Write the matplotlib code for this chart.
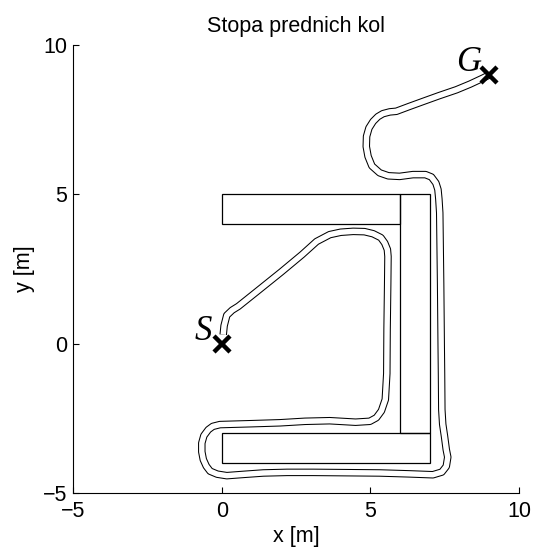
import matplotlib
matplotlib.use('Agg')
from matplotlib import pyplot as plt
from matplotlib.patches import Rectangle

plt.rcParams['font.family'] = ['Liberation Sans', 'DejaVu Sans']

# obstacles: (x, y, width, height)
obstacles = [(0, 4, 6, 1), (6, -3, 1, 8), (0, -4, 7, 1)]

# wheel track
path_x = [0.05, 0.08, 0.17, 0.35, 0.56, 1.2, 2.0, 2.7, 3.19, 3.63, 4.0, 4.42,
          4.8, 5.09, 5.35, 5.48, 5.57, 5.59, 5.58, 5.56, 5.55, 5.5, 5.37, 5.2,
          4.98, 4.5, 3.63, 2.8, 1.96, 1.0, -0.06, -0.3, -0.45, -0.6, -0.67,
          -0.67, -0.62, -0.52, -0.39, -0.15, 0.17, 0.7, 1.40, 2.2, 3.07, 4.2,
          5.31, 6.3, 7.10, 7.4, 7.55, 7.60, 7.55, 7.49, 7.43, 7.40, 7.39, 7.38,
          7.36, 7.33, 7.30, 7.27, 7.2, 7.05, 6.85, 6.43, 5.98, 5.6, 5.31, 5.05,
          4.92, 4.86, 4.87, 4.95, 5.09, 5.25, 5.42, 5.65, 5.87, 6.3, 6.77, 7.3,
          7.89, 8.35, 8.78, 9.0]
path_y = [0.3, 0.6, 0.95, 1.12, 1.25, 1.76, 2.4, 2.98, 3.42, 3.65, 3.73, 3.76,
          3.75, 3.68, 3.55, 3.37, 3.15, 2.92, 2.0, 0.5, -1.0, -1.87, -2.25,
          -2.48, -2.6, -2.63, -2.58, -2.6, -2.65, -2.68, -2.71, -2.77, -2.88,
          -3.08, -3.33, -3.62, -3.88, -4.1, -4.27, -4.37, -4.42, -4.38, -4.33,
          -4.31, -4.31, -4.32, -4.33, -4.36, -4.39, -4.3, -4.11, -3.8, -3.55,
          -3.10, -2.7, -2.21, -1.0, -0.09, 2.0, 4.38, 4.85, 5.16, 5.38, 5.58,
          5.66, 5.66, 5.6, 5.62, 5.72, 5.95, 6.27, 6.6, 6.94, 7.22, 7.44, 7.6,
          7.7, 7.76, 7.78, 7.94, 8.11, 8.3, 8.5, 8.69, 8.89, 9.0]

start = (0, 0)
goal = (9, 9)
ticks = [-5, 0, 5, 10]
tick_labels = ['\u22125', '0', '5', '10']

fig = plt.figure(figsize=(5.33, 5.48), dpi=100)
ax = fig.add_axes([0.137, 0.1004, 0.837, 0.8175])

for (x0, y0, w, h) in obstacles:
    ax.add_patch(Rectangle((x0, y0), w, h, fill=False, edgecolor='black', linewidth=0.9))

ax.plot(path_x, path_y, color='black', linewidth=5.4, solid_joinstyle='round', solid_capstyle='butt')
ax.plot(path_x, path_y, color='white', linewidth=3.9, solid_joinstyle='round', solid_capstyle='butt')

ax.plot(*start, marker='x', color='black', markersize=11.5, markeredgewidth=3.2)
ax.plot(*goal, marker='x', color='black', markersize=11.5, markeredgewidth=3.2)
serif = ['Liberation Serif', 'DejaVu Serif']
ax.text(-0.33, 0.42, 'S', ha='right', va='center', fontsize=25, style='italic', family=serif)
ax.text(8.72, 9.4, 'G', ha='right', va='center', fontsize=25, style='italic', family=serif)

ax.set_xlim(-5, 10)
ax.set_ylim(-5, 10)
ax.set_xticks(ticks)
ax.set_yticks(ticks)
ax.set_xticklabels(tick_labels)
ax.set_yticklabels(tick_labels)
ax.spines['top'].set_visible(False)
ax.spines['right'].set_visible(False)
ax.tick_params(direction='in', length=4, labelsize=15.5, width=0.8, pad=4)
ax.tick_params(axis='x', pad=6)
ax.set_xlabel('x [m]', fontsize=15.5, labelpad=3)
ax.set_ylabel('y [m]', fontsize=15.5, labelpad=6)
ax.set_title('Stopa prednich kol', fontsize=15.5, pad=9)

fig.savefig('out.png', dpi=100)
